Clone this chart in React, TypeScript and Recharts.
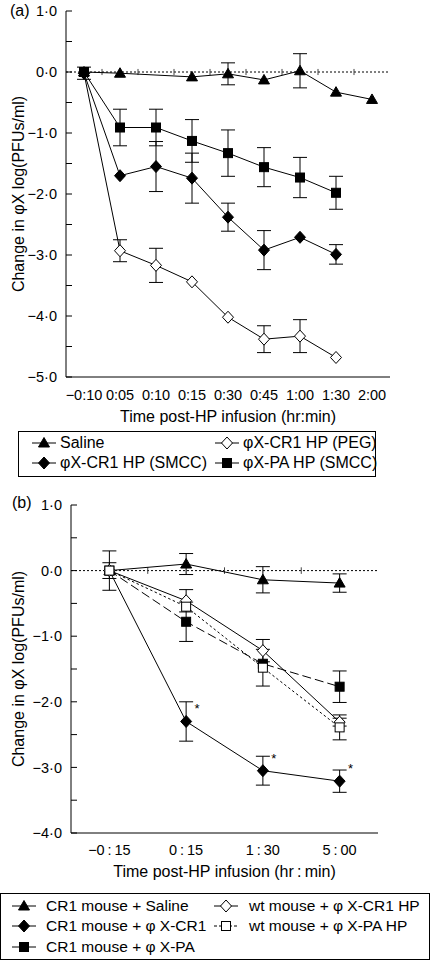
import React from 'react';
import { LineChart, Line, XAxis, YAxis, ErrorBar, ReferenceLine, LabelList } from 'recharts';

const FONT = '"Liberation Sans", Arial, Helvetica, sans-serif';

// ---- panel (a) data ----
const timesA = ['\u22120:10', '0:05', '0:10', '0:15', '0:30', '0:45', '1:00', '1:30', '2:00'];
const salineA = [0, -0.02, null, -0.08, -0.03, -0.13, 0.02, -0.33, -0.45];
const salineErrA = [null, null, null, null, 0.18, null, 0.28, null, null];
const pegA = [-0.02, -2.93, -3.17, -3.44, -4.02, -4.38, -4.33, -4.68, null];
const pegErrA = [null, 0.18, 0.28, null, null, 0.22, 0.27, null, null];
const smccA = [-0.02, -1.7, -1.55, -1.74, -2.38, -2.92, -2.71, -2.99, null];
const smccErrA = [0.1, null, 0.41, 0.41, 0.23, 0.32, null, 0.16, null];
const paA = [0, -0.91, -0.91, -1.13, -1.33, -1.56, -1.73, -1.98, null];
const paErrA = [null, 0.3, 0.3, 0.35, 0.38, 0.32, 0.33, 0.27, null];
const namesA = ['Saline', '\u03c6X-CR1 HP (PEG)', '\u03c6X-CR1 HP (SMCC)', '\u03c6X-PA HP (SMCC)'];
const yTicksA = [1, 0.5, 0, -0.5, -1, -1.5, -2, -2.5, -3, -3.5, -4, -4.5, -5];

// ---- panel (b) data ----
const timesB = ['\u22120\u2009:\u200915', '0\u2009:\u200915', '1\u2009:\u200930', '5\u2009:\u200900'];
const salineB = [0, 0.1, -0.14, -0.19];
const salineErrB = [0.3, 0.16, 0.2, 0.14];
const cr1B = [0, -2.3, -3.05, -3.21];
const cr1ErrB = [0.12, 0.3, 0.22, 0.17];
const sigB = ['', '*', '*', '*'];
const paB = [0, -0.78, -1.42, -1.77];
const paErrB = [null, 0.3, null, 0.24];
const wtCr1B = [0, -0.46, -1.22, -2.31];
const wtCr1ErrB = [null, 0.17, 0.17, 0.06];
const wtPaB = [0, -0.55, -1.48, -2.39];
const wtPaErrB = [null, null, 0.28, 0.19];
const namesB = [
  'CR1 mouse + Saline',
  'wt mouse + \u03c6 X-CR1 HP',
  'CR1 mouse + \u03c6 X-CR1',
  'wt mouse + \u03c6 X-PA HP',
  'CR1 mouse + \u03c6 X-PA',
];
const yTicksB = [1, 0.5, 0, -0.5, -1, -1.5, -2, -2.5, -3, -3.5, -4];

const rowsA = timesA.map((_, i) => ({
  x: i,
  saline: salineA[i], salineErr: salineErrA[i],
  peg: pegA[i], pegErr: pegErrA[i],
  smcc: smccA[i], smccErr: smccErrA[i],
  pa: paA[i], paErr: paErrA[i],
}));

const rowsB = timesB.map((_, i) => ({
  x: i,
  saline: salineB[i], salineErr: salineErrB[i],
  cr1: cr1B[i], cr1Err: cr1ErrB[i], sig: sigB[i],
  pa: paB[i], paErr: paErrB[i],
  wtCr1: wtCr1B[i], wtCr1Err: wtCr1ErrB[i],
  wtPa: wtPaB[i], wtPaErr: wtPaErrB[i],
}));

type Shape = 'triangle' | 'diamond' | 'square';

const Marker = ({ cx, cy, shape, filled }: { cx: number; cy: number; shape: Shape; filled: boolean }) => {
  const fill = filled ? '#000' : '#fff';
  if (shape === 'triangle') {
    return <path d={`M${cx},${cy - 5.5} L${cx + 5.5},${cy + 4} L${cx - 5.5},${cy + 4} Z`} fill={fill} stroke="#000" strokeWidth={1} />;
  }
  if (shape === 'diamond') {
    return <path d={`M${cx},${cy - 6} L${cx + 5.5},${cy} L${cx},${cy + 6} L${cx - 5.5},${cy} Z`} fill={fill} stroke="#000" strokeWidth={1} />;
  }
  return <rect x={cx - 4.5} y={cy - 4.5} width={9} height={9} fill={fill} stroke="#000" strokeWidth={1} />;
};

const dotFor = (shape: Shape, filled: boolean) => (p: any) => {
  if (p.cx == null || p.cy == null || p.value == null) return <g key={`e${p.index}`} />;
  return <Marker key={`d${p.index}`} cx={p.cx} cy={p.cy} shape={shape} filled={filled} />;
};

const fmtY = (v: number) => (v === 0 ? '0\u00b70' : (v < 0 ? '\u2212' : '') + Math.abs(v).toFixed(1).replace('.', '\u00b7'));

const YTick = (props: any) => {
  const { x, y, payload } = props;
  const v = payload.value as number;
  const major = Math.abs(v - Math.round(v)) < 1e-6;
  return (
    <g>
      <line x1={x + 9} x2={x + 15} y1={y} y2={y} stroke="#000" strokeWidth={1} />
      {major && (
        <text x={x} y={y} dy="0.36em" textAnchor="end" fontSize={14.5} fontFamily={FONT} fill="#000">
          {fmtY(v)}
        </text>
      )}
    </g>
  );
};

const Asterisk = (p: any) => {
  if (!p.value) return null;
  return (
    <text x={p.x + 11} y={p.y - 8} textAnchor="middle" fontSize={13} fontFamily={FONT} fill="#000">
      {p.value}
    </text>
  );
};

const LegendIcon = ({ shape, filled, dash }: { shape: Shape; filled: boolean; dash?: string }) => (
  <svg width={24} height={14} style={{ display: 'block', flex: 'none' }}>
    <line x1={0} x2={24} y1={7} y2={7} stroke="#000" strokeDasharray={dash} />
    <Marker cx={12} cy={7} shape={shape} filled={filled} />
  </svg>
);

const LegendItem = ({ left, top, gap, label, shape, filled, dash }: any) => (
  <div style={{ position: 'absolute', left, top: top - 10, height: 20, display: 'flex', alignItems: 'center', whiteSpace: 'nowrap' }}>
    <LegendIcon shape={shape} filled={filled} dash={dash} />
    <span style={{ marginLeft: gap }}>{label}</span>
  </div>
);

const axisTitle = { fontSize: 16, fill: '#000', fontFamily: FONT };
const CAP = 7;

export default function App() {
  const boundsA = timesA.slice(1).map((_, i) => i + 0.5);
  const boundsB = timesB.slice(1).map((_, i) => i + 0.5);
  return (
    <div style={{ position: 'absolute', left: 0, top: 0, width: 430, height: 960, background: '#fff', fontFamily: FONT, color: '#000' }}>
      <div style={{ position: 'absolute', left: 10, top: 2, fontSize: 16 }}>(a)</div>
      <div style={{ position: 'absolute', left: 0, top: 0 }}>
        <LineChart width={430} height={430} data={rowsA} margin={{ top: 11, right: 40, bottom: 13, left: 0 }}>
          <XAxis
            type="number"
            dataKey="x"
            domain={[-0.5, 8.5]}
            ticks={timesA.map((_, i) => i)}
            interval={0}
            tickFormatter={(v: number) => timesA[v]}
            tickLine={false}
            tickSize={0}
            tickMargin={13}
            height={40}
            stroke="#000"
            tick={{ fill: '#000', fontSize: 14.5, fontFamily: FONT }}
            label={{ value: 'Time post-HP infusion (hr:min)', position: 'insideBottom', offset: -5, style: axisTitle }}
          />
          <YAxis
            type="number"
            domain={[-5, 1]}
            ticks={yTicksA}
            interval={0}
            width={66}
            tickLine={false}
            tickSize={0}
            tickMargin={9}
            stroke="#000"
            tick={<YTick />}
            label={{ value: 'Change in \u03c6X log(PFUs/ml)', angle: -90, position: 'insideLeft', offset: 18, style: { ...axisTitle, textAnchor: 'middle' } }}
          />
          <ReferenceLine y={0} stroke="#000" strokeDasharray="2 2" />
          {boundsA.map((b) => (
            <ReferenceLine key={b} segment={[{ x: b, y: -0.05 }, { x: b, y: 0.05 }]} stroke="#444" />
          ))}
          <Line dataKey="peg" stroke="#000" strokeWidth={1} dot={dotFor('diamond', false)} isAnimationActive={false}>
            <ErrorBar dataKey="pegErr" width={CAP} stroke="#000" strokeWidth={1} />
          </Line>
          <Line dataKey="pa" stroke="#000" strokeWidth={1} dot={dotFor('square', true)} isAnimationActive={false}>
            <ErrorBar dataKey="paErr" width={CAP} stroke="#000" strokeWidth={1} />
          </Line>
          <Line dataKey="smcc" stroke="#000" strokeWidth={1} dot={dotFor('diamond', true)} isAnimationActive={false}>
            <ErrorBar dataKey="smccErr" width={CAP} stroke="#000" strokeWidth={1} />
          </Line>
          <Line dataKey="saline" stroke="#000" strokeWidth={1} connectNulls dot={dotFor('triangle', true)} isAnimationActive={false}>
            <ErrorBar dataKey="salineErr" width={CAP} stroke="#000" strokeWidth={1} />
          </Line>
        </LineChart>
      </div>

      <div style={{ position: 'absolute', left: 18, top: 431, width: 356, height: 44, border: '1px solid #000', fontSize: 16 }}>
        <LegendItem left={13} top={11} gap={4} label={namesA[0]} shape="triangle" filled />
        <LegendItem left={196} top={11} gap={4} label={namesA[1]} shape="diamond" filled={false} />
        <LegendItem left={13} top={31} gap={4} label={namesA[2]} shape="diamond" filled />
        <LegendItem left={196} top={31} gap={4} label={namesA[3]} shape="square" filled />
      </div>

      <div style={{ position: 'absolute', left: 12, top: 494, fontSize: 16 }}>(b)</div>
      <div style={{ position: 'absolute', left: 0, top: 480 }}>
        <LineChart width={430} height={413} data={rowsB} margin={{ top: 25, right: 52, bottom: 20, left: 0 }}>
          <XAxis
            type="number"
            dataKey="x"
            domain={[-0.5, 3.5]}
            ticks={timesB.map((_, i) => i)}
            interval={0}
            tickFormatter={(v: number) => timesB[v]}
            tickLine={false}
            tickSize={0}
            tickMargin={12}
            height={40}
            stroke="#000"
            tick={{ fill: '#000', fontSize: 14.5, fontFamily: FONT }}
            label={{ value: 'Time post-HP infusion (hr\u2009:\u2009min)', position: 'insideBottom', offset: -4, style: axisTitle }}
          />
          <YAxis
            type="number"
            domain={[-4, 1]}
            ticks={yTicksB}
            interval={0}
            width={71}
            tickLine={false}
            tickSize={0}
            tickMargin={9}
            stroke="#000"
            tick={<YTick />}
            label={{ value: 'Change in \u03c6X log(PFUs/ml)', angle: -90, position: 'insideLeft', offset: 18, style: { ...axisTitle, textAnchor: 'middle' } }}
          />
          <ReferenceLine y={0} stroke="#000" strokeDasharray="2 2" />
          {boundsB.map((b) => (
            <ReferenceLine key={b} segment={[{ x: b, y: -0.05 }, { x: b, y: 0.05 }]} stroke="#444" />
          ))}
          <Line dataKey="saline" stroke="#000" strokeWidth={1} dot={dotFor('triangle', true)} isAnimationActive={false}>
            <ErrorBar dataKey="salineErr" width={CAP} stroke="#000" strokeWidth={1} />
          </Line>
          <Line dataKey="cr1" stroke="#000" strokeWidth={1} dot={dotFor('diamond', true)} isAnimationActive={false}>
            <ErrorBar dataKey="cr1Err" width={CAP} stroke="#000" strokeWidth={1} />
            <LabelList dataKey="sig" content={<Asterisk />} />
          </Line>
          <Line dataKey="pa" stroke="#000" strokeWidth={1} strokeDasharray="9 4" dot={dotFor('square', true)} isAnimationActive={false}>
            <ErrorBar dataKey="paErr" width={CAP} stroke="#000" strokeWidth={1} />
          </Line>
          <Line dataKey="wtCr1" stroke="#000" strokeWidth={1} dot={dotFor('diamond', false)} isAnimationActive={false}>
            <ErrorBar dataKey="wtCr1Err" width={CAP} stroke="#000" strokeWidth={1} />
          </Line>
          <Line dataKey="wtPa" stroke="#000" strokeWidth={1} strokeDasharray="2.5 2.5" dot={dotFor('square', false)} isAnimationActive={false}>
            <ErrorBar dataKey="wtPaErr" width={CAP} stroke="#000" strokeWidth={1} />
          </Line>
        </LineChart>
      </div>

      <div style={{ position: 'absolute', left: 0, top: 893, width: 428, height: 65, border: '1px solid #000', fontSize: 15.5 }}>
        <LegendItem left={11} top={12} gap={10} label={namesB[0]} shape="triangle" filled />
        <LegendItem left={213} top={12} gap={11} label={namesB[1]} shape="diamond" filled={false} />
        <LegendItem left={11} top={32} gap={10} label={namesB[2]} shape="diamond" filled />
        <LegendItem left={213} top={32} gap={11} label={namesB[3]} shape="square" filled={false} dash="3 2" />
        <LegendItem left={11} top={53} gap={10} label={namesB[4]} shape="square" filled />
      </div>
    </div>
  );
}
